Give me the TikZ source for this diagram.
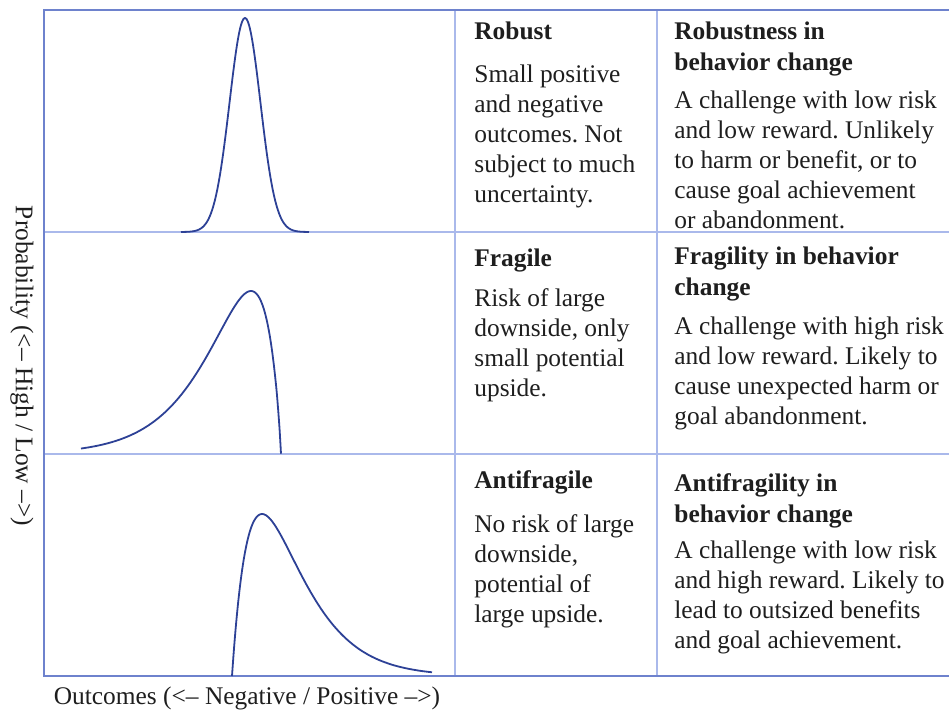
\documentclass[tikz,border=0pt]{standalone}
\usepackage{fontspec}
\setmainfont{Liberation Serif}
\usetikzlibrary{positioning}
\frenchspacing

\definecolor{gridblue}{RGB}{110,130,205}
\definecolor{gridlight}{RGB}{170,185,235}
\definecolor{curveblue}{RGB}{45,65,150}
\definecolor{inkgray}{RGB}{30,30,30}

\begin{document}
\begin{tikzpicture}[x=0.5pt, y=-0.5pt,
    hd/.style={anchor=north west, inner sep=0pt, align=left, text=inkgray, font=\fontsize{12.7}{15.5}\selectfont\bfseries},
    txt/.style={anchor=north west, inner sep=0pt, align=left, text=inkgray, font=\fontsize{12.7}{15}\selectfont},
    axislabel/.style={inner sep=0pt, text=inkgray, font=\fontsize{12.7}{15}\selectfont},
    outer/.style={draw=gridblue, line width=1pt},
    inner/.style={draw=gridlight, line width=0.8pt},
    curve/.style={draw=curveblue, line width=0.9pt, line join=round},
]
\useasboundingbox (0,0) rectangle (949,712);

% Table lines
\draw[inner] (455,10) -- (455,676) (657,10) -- (657,676);
\draw[inner] (44,232) -- (949,232) (44,454) -- (949,454);
\draw[outer] (949,10) -- (44,10) -- (44,676) -- (949,676);

% Distribution curves
\draw[curve] plot[domain=-64:64, samples=120, smooth] ({245+\x},{232-214*exp(-\x*\x/475)});
\draw[curve] plot[domain=0.01:200, samples=140, smooth] ({281-\x},{454-163*exp(0.9*(ln(\x/30)+1-\x/30))});
\draw[curve] plot[domain=0:200, samples=120, smooth] ({232+\x},{676-162*(\x/30)*exp(1-\x/30)});

% Row 1
\node[hd] (robust) at (474,21) {Robust};
\node[txt] (robustdesc) at (474,64) {Small positive\\and negative\\outcomes. Not\\subject to much\\uncertainty.};
\node[hd] (robustbc) at (674,21) {Robustness in\\behavior change};
\node[txt] (robustbcdesc) at (674,90) {A challenge with low risk\\and low reward. Unlikely\\to harm or benefit, or to\\cause goal achievement\\or abandonment.};

% Row 2
\node[hd] (fragile) at (474,248) {Fragile};
\node[txt] (fragiledesc) at (474,288) {Risk of large\\downside, only\\small potential\\upside.};
\node[hd] (fragilebc) at (674,246) {Fragility in behavior\\change};
\node[txt] (fragilebcdesc) at (674,316) {A challenge with high risk\\and low reward. Likely to\\cause unexpected harm or\\goal abandonment.};

% Row 3
\node[hd] (anti) at (474,470) {Antifragile};
\node[txt] (antidesc) at (474,514) {No risk of large\\downside,\\potential of\\large upside.};
\node[hd] (antibc) at (674,473) {Antifragility in\\behavior change};
\node[txt] (antibcdesc) at (674,540) {A challenge with low risk\\and high reward. Likely to\\lead to outsized benefits\\and goal achievement.};

% Axis labels
\node[axislabel, rotate=-90] (ylabel) at (22,366) {Probability (<\textendash\ High / Low \textendash>)};
\node[axislabel] (xlabel) at (247,698) {Outcomes (<\textendash\ Negative / Positive \textendash>)};
\end{tikzpicture}
\end{document}
